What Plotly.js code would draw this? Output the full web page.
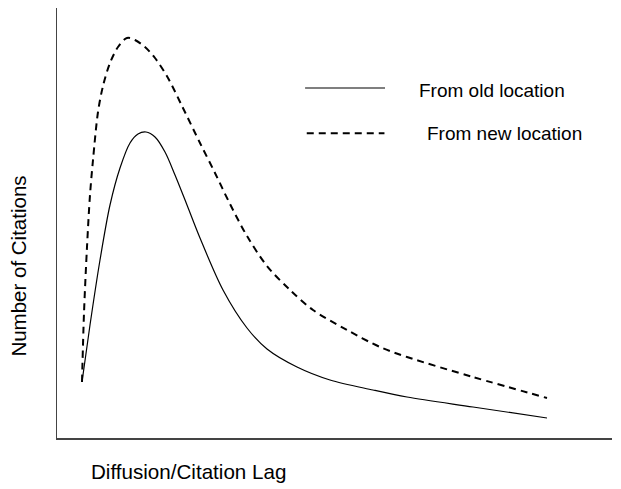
<!DOCTYPE html>
<html>
<head>
<meta charset="utf-8">
<script src="https://cdn.plot.ly/plotly-3.0.1.min.js"></script>
<style>html,body{margin:0;padding:0;background:#fff;}#chart{width:621px;height:489px;}</style>
</head>
<body>
<div id="chart"></div>
<script>
// Diffusion/citation lag (arbitrary units) and number of citations (arbitrary units)
var oldLag = [25, 33, 43, 53, 63, 73, 81, 89, 98, 108, 118, 130, 143, 166, 190, 210, 240, 273, 316, 350, 416, 490];
var oldCites = [56, 113, 178, 233, 270, 295, 304, 306, 301, 286, 263, 233, 200, 148, 110, 89, 71, 58, 48, 41, 31, 20];

var newLag = [25, 27, 30, 33, 36, 41, 46, 53, 61, 70, 78, 88, 98, 111, 125, 143, 158, 173, 190, 210, 233, 256, 290, 323, 350, 416, 490];
var newCites = [56, 125, 191, 243, 278, 326, 352, 375, 391, 400, 398, 391, 380, 360, 332, 295, 265, 234, 202, 172, 148, 128, 108, 91, 81, 61, 40];

var seriesNames = ["From old location", "From new location"];
var xTitle = "Diffusion/Citation Lag";
var yTitle = "Number of Citations";

var font = "Liberation Sans, Arial, Helvetica, sans-serif";

var traces = [
  {x: oldLag, y: oldCites, mode: "lines", name: seriesNames[0],
   line: {color: "#000", width: 1.2, shape: "spline", smoothing: 0.9}},
  {x: newLag, y: newCites, mode: "lines", name: seriesNames[1],
   line: {color: "#000", width: 2, shape: "spline", smoothing: 0.9, dash: "7px,5px"}}
];

var layout = {
  width: 621, height: 489,
  margin: {l: 57, r: 9, t: 8, b: 51},
  paper_bgcolor: "#fff", plot_bgcolor: "#fff",
  showlegend: false,
  font: {family: font, color: "#000"},
  xaxis: {range: [0, 555], showline: true, linecolor: "#444", linewidth: 1.5,
          showgrid: false, zeroline: false, showticklabels: false, ticks: "", fixedrange: true},
  yaxis: {range: [0, 430], showline: true, linecolor: "#444", linewidth: 1.5,
          showgrid: false, zeroline: false, showticklabels: false, ticks: "", fixedrange: true},
  shapes: [
    {type: "line", xref: "paper", yref: "paper", x0: 0.447, x1: 0.591, y0: 0.814, y1: 0.814,
     line: {color: "#000", width: 1.2}},
    {type: "line", xref: "paper", yref: "paper", x0: 0.450, x1: 0.590, y0: 0.709, y1: 0.709,
     line: {color: "#000", width: 2, dash: "7px,5px"}}
  ],
  annotations: [
    {text: seriesNames[0], xref: "paper", yref: "paper", x: 0.649, y: 0.807,
     xanchor: "left", yanchor: "middle", showarrow: false, font: {size: 19, family: font, color: "#000"}},
    {text: seriesNames[1], xref: "paper", yref: "paper", x: 0.663, y: 0.709,
     xanchor: "left", yanchor: "middle", showarrow: false, font: {size: 19, family: font, color: "#000"}},
    {text: xTitle, xref: "paper", yref: "paper", x: 0.058, y: -0.079,
     xanchor: "left", yanchor: "middle", showarrow: false, font: {size: 20.6, family: font, color: "#000"}},
    {text: yTitle, xref: "paper", yref: "paper", x: -0.071, y: 0.400, textangle: -90,
     xanchor: "center", yanchor: "middle", showarrow: false, font: {size: 20.5, family: font, color: "#000"}}
  ]
};

Plotly.newPlot("chart", traces, layout, {displayModeBar: false, staticPlot: true});
</script>
</body>
</html>
